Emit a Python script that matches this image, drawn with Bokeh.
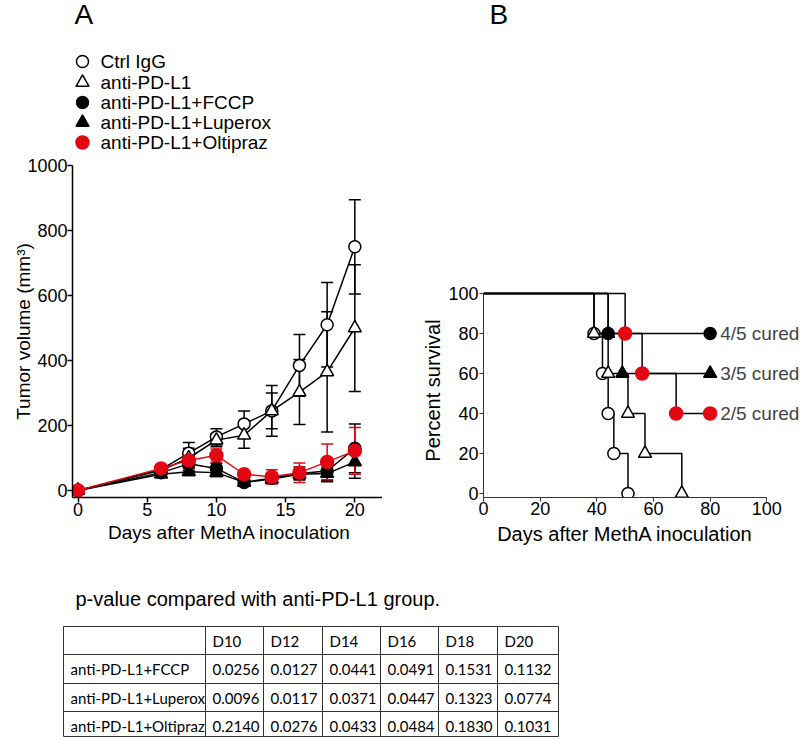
import math
from bokeh.plotting import figure
from bokeh.layouts import column, row
from bokeh.models import (Range1d, FixedTicker, Whisker, TeeHead, ColumnDataSource, Label)
from bokeh.embed import file_html
from bokeh.resources import INLINE
from bokeh.core.properties import value

# ---------------- data: panel A (tumor volume, mean and error) ----------------
days = [0, 6, 8, 10, 12, 14, 16, 18, 20]
ctrl_mean = [0, 65, 115, 165, 205, 245, 385, 510, 750]
ctrl_err = [0, 12, 33, 25, 40, 78, 95, 130, 145]
anti_mean = [0, 62, 100, 155, 170, 245, 303, 365, 500]
anti_err = [0, 10, 30, 20, 40, 55, 100, 185, 195]
fccp_mean = [0, 55, 82, 68, 25, 38, 52, 60, 130]
fccp_err = [0, 8, 20, 15, 8, 15, 20, 30, 75]
lup_mean = [0, 50, 58, 55, 25, 35, 50, 52, 88]
lup_err = [0, 8, 12, 12, 8, 12, 15, 25, 50]
olt_mean = [0, 68, 93, 108, 50, 42, 55, 88, 122]
olt_err = [0, 10, 25, 20, 10, 22, 30, 55, 72]

group_names = ["Ctrl IgG", "anti-PD-L1", "anti-PD-L1+FCCP",
               "anti-PD-L1+Luperox", "anti-PD-L1+Oltipraz"]

# ---------------- data: panel B (survival) ----------------
ctrl_surv_day = [0, 39, 42, 44, 46, 51]
ctrl_surv_pct = [100, 80, 60, 40, 20, 0]
anti_surv_day = [0, 39, 44, 51, 57, 70]
anti_surv_pct = [100, 80, 60, 40, 20, 0]
fccp_surv_day = [0, 44, 80]
fccp_surv_pct = [100, 80, 80]
lup_surv_day = [0, 44, 49, 80]
lup_surv_pct = [100, 80, 60, 60]
olt_surv_day = [0, 50, 56, 68, 80]
olt_surv_pct = [100, 80, 60, 40, 40]
cured_text = ["4/5 cured", "3/5 cured", "2/5 cured"]

# ---------------- data: p-value table ----------------
table_title = "p-value compared with anti-PD-L1 group."
table_cols = ["D10", "D12", "D14", "D16", "D18", "D20"]
table_rows = ["anti-PD-L1+FCCP", "anti-PD-L1+Luperox", "anti-PD-L1+Oltipraz"]
p_fccp = [0.0256, 0.0127, 0.0441, 0.0491, 0.1531, 0.1132]
p_lup = [0.0096, 0.0117, 0.0371, 0.0447, 0.1323, 0.0774]
p_olt = [0.2140, 0.0276, 0.0433, 0.0484, 0.1830, 0.1031]

x_title = "Days after MethA inoculation"
ya_title = "Tumor volume (mm³)"
yb_title = "Percent survival"

FONT = "Liberation Sans"
TFONT = "Lato"
RED = "#e30613"
BLACK = "#000000"

# marker styles per group: (marker, fill, line colour, size)
styles = [("circle", "white", BLACK, 12), ("triangle", "white", BLACK, 13),
          ("circle", BLACK, BLACK, 12), ("triangle", BLACK, BLACK, 13),
          ("circle", RED, RED, 13)]

# ---------------- layout geometry (pixels) ----------------
W = 800
HEAD_H = 154
BORDER_TOP = 11
FRAME_H = 332
BORDER_BOT = 26
ROW_TOP = HEAD_H
ROW_BOT = HEAD_H + BORDER_TOP + FRAME_H + BORDER_BOT
A_LEFT, A_FRAME_W = 72, 310
MID_W = 63
B_LEFT, B_FRAME_W = 38, 317


def blank(p):
    p.grid.visible = False
    p.outline_line_color = None
    p.background_fill_color = "white"
    p.border_fill_color = "white"


def style_axes(p, lw=1.5, color=BLACK, tick_out=5, label_size="18px", title_size="19px"):
    for ax in p.axis:
        ax.axis_line_width = lw
        ax.axis_line_color = color
        ax.major_tick_line_width = lw
        ax.major_tick_line_color = color
        ax.major_tick_out = tick_out
        ax.major_tick_in = 0
        ax.minor_tick_line_color = None
        ax.major_label_text_font = FONT
        ax.major_label_text_font_size = label_size
        ax.major_label_text_color = BLACK
        ax.axis_label_text_font = FONT
        ax.axis_label_text_font_size = title_size
        ax.axis_label_text_font_style = "normal"
        ax.axis_label_text_color = BLACK
    blank(p)


# ================= Header: panel letters and legend =================
pH = figure(frame_width=W, frame_height=HEAD_H, min_border=0,
            x_range=Range1d(0, W), y_range=Range1d(HEAD_H, 0),
            x_axis_location=None, y_axis_location=None,
            output_backend="svg", toolbar_location=None, tools="")
blank(pH)
pH.text([74, 489], [14, 14], text=["A", "B"], text_font=value(FONT),
        text_font_size=value("28px"), text_baseline="middle", text_align="left",
        text_color=BLACK)
leg_y = [61, 82, 102, 122, 142]
for (mk, fill, col, sz), yy in zip(styles, leg_y):
    pH.scatter([82], [yy], marker=mk, size=sz, fill_color=fill, line_color=col, line_width=1.5)
pH.text([100] * len(group_names), leg_y, text=group_names, text_font=value(FONT),
        text_font_size=value("19px"), text_baseline="middle", text_align="left",
        text_color=BLACK)

# ================= Panel A =================
ay_px = 0.325
xa0 = -0.4
ya0 = 1000 - FRAME_H / ay_px
pA = figure(frame_width=A_FRAME_W, frame_height=FRAME_H,
            min_border_left=A_LEFT, min_border_right=0,
            min_border_top=BORDER_TOP, min_border_bottom=BORDER_BOT,
            x_range=Range1d(xa0, 22), y_range=Range1d(ya0, 1000),
            output_backend="svg", toolbar_location=None, tools="")
pA.xaxis.bounds = (xa0, 22)
pA.yaxis.bounds = (ya0, 1000)
pA.xaxis.ticker = FixedTicker(ticks=[0, 5, 10, 15, 20])
pA.yaxis.ticker = FixedTicker(ticks=[0, 200, 400, 600, 800, 1000])
pA.yaxis.axis_label = ya_title
style_axes(pA)
pA.yaxis.major_label_standoff = 0
pA.yaxis.axis_label_standoff = -10
pA.xaxis.major_label_standoff = 0


def series(p, x, m, e, style):
    mk, fill, color, size = style
    src = ColumnDataSource(dict(x=x, y=m,
                                lo=[a - b for a, b in zip(m, e)],
                                hi=[a + b for a, b in zip(m, e)]))
    w = Whisker(source=src, base="x", upper="hi", lower="lo",
                line_color=color, line_width=1.5,
                upper_head=TeeHead(size=12, line_color=color, line_width=1.5),
                lower_head=TeeHead(size=12, line_color=color, line_width=1.5))
    p.add_layout(w)
    p.line("x", "y", source=src, line_color=color, line_width=1.5)
    p.scatter("x", "y", source=src, marker=mk, size=size,
              fill_color=fill, line_color=color, line_width=1.5)


for m, e, st in zip([ctrl_mean, anti_mean, fccp_mean, lup_mean, olt_mean],
                    [ctrl_err, anti_err, fccp_err, lup_err, olt_err], styles):
    series(pA, days, m, e, st)

# ================= middle strip: y title of panel B =================
pM = figure(frame_width=MID_W, frame_height=FRAME_H, min_border_left=0, min_border_right=0,
            min_border_top=BORDER_TOP, min_border_bottom=BORDER_BOT,
            x_range=Range1d(0, MID_W), y_range=Range1d(0, FRAME_H),
            x_axis_location=None, y_axis_location=None,
            output_backend="svg", toolbar_location=None, tools="")
blank(pM)
pM.text([432 - (A_LEFT + A_FRAME_W)], [ROW_TOP + BORDER_TOP + FRAME_H - 390], text=[yb_title],
        angle=math.pi / 2, text_font=value(FONT), text_font_size=value("20px"),
        text_baseline="middle", text_align="center", text_color=BLACK)

# ================= Panel B =================
bx_px = 2.833
by_px = 2.0
yb0 = -2
pB = figure(frame_width=B_FRAME_W, frame_height=FRAME_H,
            min_border_left=B_LEFT, min_border_right=0,
            min_border_top=BORDER_TOP, min_border_bottom=BORDER_BOT,
            x_range=Range1d(0, B_FRAME_W / bx_px), y_range=Range1d(yb0, yb0 + FRAME_H / by_px),
            output_backend="svg", toolbar_location=None, tools="")
pB.xaxis.bounds = (0, 100)
pB.yaxis.bounds = (yb0, 100)
pB.xaxis.ticker = FixedTicker(ticks=[0, 20, 40, 60, 80, 100])
pB.yaxis.ticker = FixedTicker(ticks=[0, 20, 40, 60, 80, 100])
style_axes(pB, lw=1, color="#333333", tick_out=4)
pB.yaxis.major_label_standoff = 1
pB.xaxis.major_label_standoff = 0

surv = [(ctrl_surv_day, ctrl_surv_pct), (anti_surv_day, anti_surv_pct),
        (fccp_surv_day, fccp_surv_pct), (lup_surv_day, lup_surv_pct),
        (olt_surv_day, olt_surv_pct)]
for d, s in surv:
    pB.step(d, s, mode="after", line_color=BLACK, line_width=1.5)
for (d, s), (mk, fill, col, sz) in zip(surv, styles):
    pB.scatter(d[1:], s[1:], marker=mk, size=sz, fill_color=fill, line_color=col, line_width=1.5)

for txt, (d, s) in zip(cured_text, surv[2:]):
    pB.add_layout(Label(x=d[-1], y=s[-1], text=txt, x_offset=10, text_font=FONT,
                        text_font_size="19px", text_baseline="middle"))

# ================= Bottom: x titles + table =================
T_H = 737 - ROW_BOT
pT = figure(frame_width=W, frame_height=T_H, min_border=0,
            x_range=Range1d(0, W), y_range=Range1d(737, ROW_BOT),
            x_axis_location=None, y_axis_location=None,
            output_backend="svg", toolbar_location=None, tools="")
blank(pT)
pT.text([229], [532], text=[x_title], text_font=value(FONT), text_font_size=value("19px"),
        text_baseline="middle", text_align="center", text_color=BLACK)
pT.text([624.5], [533], text=[x_title], text_font=value(FONT), text_font_size=value("20px"),
        text_baseline="middle", text_align="center", text_color=BLACK)

col_edges = [63, 205, 263, 322, 380, 438, 497, 558]
row_edges = [626, 654, 683, 711, 736]

pT.text([75], [598], text=[table_title], text_font=value(FONT), text_font_size=value("20px"),
        text_baseline="middle", text_align="left", text_color=BLACK)

pT.segment(x0=[col_edges[0]] * len(row_edges), x1=[col_edges[-1]] * len(row_edges),
           y0=row_edges, y1=row_edges, line_color="#333333", line_width=1)
pT.segment(x0=col_edges, x1=col_edges, y0=[row_edges[0]] * len(col_edges),
           y1=[row_edges[-1]] * len(col_edges), line_color="#333333", line_width=1)

cells_x, cells_y, cells_t = [], [], []
for j, c in enumerate(table_cols):
    cells_x.append(col_edges[j + 1] + 7)
    cells_y.append(row_edges[0] + 14.5)
    cells_t.append(c)
for i, (name, vals) in enumerate(zip(table_rows, [p_fccp, p_lup, p_olt])):
    cells_x.append(col_edges[0] + 7)
    cells_y.append(row_edges[i + 1] + 14.5)
    cells_t.append(name)
    for j, v in enumerate(vals):
        cells_x.append(col_edges[j + 1] + 7)
        cells_y.append(row_edges[i + 1] + 14.5)
        cells_t.append(f"{v:.4f}")
pT.text(cells_x, cells_y, text=cells_t, text_font=value(TFONT), text_font_size=value("15px"),
        text_baseline="middle", text_align="left", text_color=BLACK)

layout = column(pH, row(pA, pM, pB), pT)
open("out.html", "w").write(file_html(layout, INLINE))
